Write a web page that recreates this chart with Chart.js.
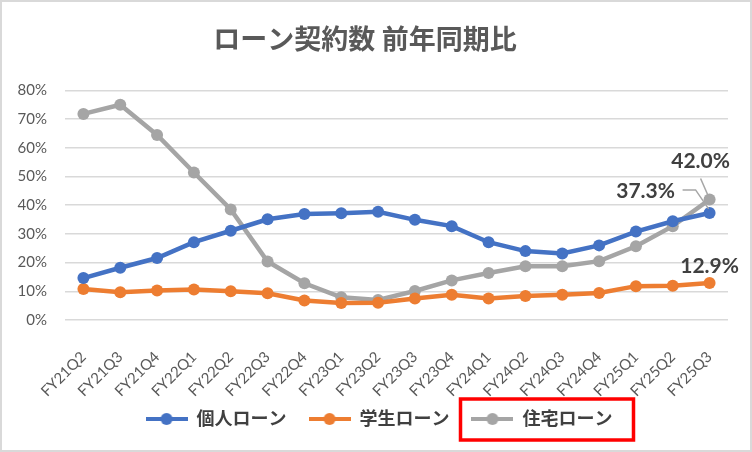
<!DOCTYPE html>
<html>
<head>
<meta charset="utf-8">
<script src="https://cdn.jsdelivr.net/npm/chart.js@4.4.1/dist/chart.umd.min.js"></script>
<style>
  html, body { margin: 0; padding: 0; background: #fff; }
  #wrap { width: 752px; height: 452px; box-sizing: border-box; border: 2px solid #d9d9d9; }
  canvas { display: block; }
</style>
</head>
<body>
<div id="wrap"><canvas id="loan-chart" width="748" height="448"></canvas></div>
<script>
const quarters = ['FY21Q2', 'FY21Q3', 'FY21Q4', 'FY22Q1', 'FY22Q2', 'FY22Q3', 'FY22Q4', 'FY23Q1', 'FY23Q2',
    'FY23Q3', 'FY23Q4', 'FY24Q1', 'FY24Q2', 'FY24Q3', 'FY24Q4', 'FY25Q1', 'FY25Q2', 'FY25Q3'];
const personalLoan = [14.6, 18.2, 21.6, 27.1, 31.1, 35.1, 36.9, 37.2, 37.7, 34.9, 32.7, 27.1, 24.0, 23.2, 26.0, 30.8, 34.4, 37.3];
const studentLoan = [10.8, 9.7, 10.3, 10.6, 10.0, 9.3, 6.8, 5.9, 6.0, 7.5, 8.8, 7.5, 8.4, 8.8, 9.4, 11.8, 11.9, 12.9];
const housingLoan = [71.8, 75.0, 64.5, 51.4, 38.5, 20.4, 12.8, 7.9, 7.0, 10.1, 13.8, 16.4, 18.7, 18.7, 20.5, 25.7, 32.7, 42.0];
const yTicks = [0, 10, 20, 30, 40, 50, 60, 70, 80];

const FONT = "Lato, 'Noto Sans CJK JP', sans-serif";

// legend marker: line with a dot in the middle
function legendMarker(color) {
    const c = document.createElement('canvas');
    c.width = 42;
    c.height = 14;
    const g = c.getContext('2d');
    g.strokeStyle = color;
    g.lineWidth = 4;
    g.beginPath();
    g.moveTo(0, 7);
    g.lineTo(42, 7);
    g.stroke();
    g.fillStyle = color;
    g.beginPath();
    g.arc(21, 7, 6, 0, Math.PI * 2);
    g.fill();
    return c;
}

// labels on the last point of each series
const endLabels = {
    id: 'endLabels',
    afterLayout(chart) {
        // legend sits a bit right of the plot centre in the original
        chart.legend.left += 14;
        chart.legend.right += 14;
        // let the rotated x labels run a little past the axis box
        chart.scales.x.bottom += 16;
    },
    afterDatasetsDraw(chart) {
        const ctx = chart.ctx;
        const last = quarters.length - 1;
        const pBlue = chart.getDatasetMeta(0).data[last];
        const pOrange = chart.getDatasetMeta(1).data[last];
        const pGray = chart.getDatasetMeta(2).data[last];
        ctx.save();
        // leader lines
        ctx.strokeStyle = '#a6a6a6';
        ctx.lineWidth = 1.5;
        ctx.beginPath();
        ctx.moveTo(pBlue.x - 27, pBlue.y - 23);
        ctx.lineTo(pBlue.x - 14, pBlue.y - 23);
        ctx.lineTo(pBlue.x - 1, pBlue.y - 4);
        ctx.stroke();
        ctx.beginPath();
        ctx.moveTo(pGray.x - 9, pGray.y - 21);
        ctx.lineTo(pGray.x - 2, pGray.y - 5);
        ctx.stroke();

        ctx.font = 'bold 21px ' + FONT;
        ctx.fillStyle = '#404040';
        ctx.textAlign = 'center';
        ctx.textBaseline = 'middle';
        ctx.fillText(housingLoan[last].toFixed(1) + '%', pGray.x - 9, pGray.y - 38);
        ctx.fillText(personalLoan[last].toFixed(1) + '%', pBlue.x - 64, pBlue.y - 22);
        ctx.fillText(studentLoan[last].toFixed(1) + '%', pOrange.x, pOrange.y - 17);
        ctx.restore();
    },
    afterDraw(chart) {
        // red highlight around the housing loan legend item
        const box = chart.legend.legendHitBoxes[2];
        if (!box) return;
        const ctx = chart.ctx;
        const cy = box.top + box.height / 2;
        ctx.save();
        ctx.strokeStyle = '#ff0000';
        ctx.lineWidth = 3.5;
        ctx.strokeRect(box.left - 11, cy - 20, box.width + 32, 41);
        ctx.restore();
    }
};

const markers = ['#4472c4', '#ed7d31', '#a5a5a5'].map(legendMarker);

const ctx = document.getElementById('loan-chart').getContext('2d');
const loanChart = new Chart(ctx, {
    type: 'line',
    data: {
        labels: quarters,
        datasets: [
            { label: '個人ローン', data: personalLoan, borderColor: '#4472c4', backgroundColor: '#4472c4' },
            { label: '学生ローン', data: studentLoan, borderColor: '#ed7d31', backgroundColor: '#ed7d31' },
            { label: '住宅ローン', data: housingLoan, borderColor: '#a5a5a5', backgroundColor: '#a5a5a5' }
        ]
    },
    options: {
        responsive: false,
        animation: false,
        elements: {
            line: { borderWidth: 4.5, tension: 0 },
            point: { pointStyle: 'circle', radius: 6, hoverRadius: 6, borderWidth: 0 }
        },
        layout: { padding: { left: 0, right: 22, top: 0, bottom: 12 } },
        scales: {
            x: {
                offset: true,
                grid: { display: false },
                border: { display: false },
                afterFit: axis => { axis.height = 68; },
                ticks: {
                    maxRotation: 45,
                    minRotation: 45,
                    autoSkip: false,
                    padding: 20,
                    color: '#595959',
                    font: { family: FONT, size: 15 }
                }
            },
            y: {
                min: 0,
                max: 80,
                afterBuildTicks: axis => { axis.ticks = yTicks.map(v => ({ value: v })); },
                afterFit: axis => { axis.width = 63; },
                grid: { color: '#d9d9d9', lineWidth: 1.5, drawTicks: false },
                border: { display: false },
                ticks: {
                    padding: 18,
                    color: '#595959',
                    font: { family: FONT, size: 15 },
                    callback: v => v + '%'
                }
            }
        },
        plugins: {
            title: {
                display: true,
                text: 'ローン契約数 前年同期比',
                color: '#595959',
                font: { family: FONT, size: 27, weight: 'bold' },
                padding: { top: 22, bottom: 34 }
            },
            legend: {
                position: 'bottom',
                labels: {
                    usePointStyle: true,
                    pointStyleWidth: 42,
                    color: '#404040',
                    padding: 22,
                    font: { family: FONT, size: 18, weight: 'bold' },
                    generateLabels: chart => chart.data.datasets.map((ds, i) => ({
                        text: ds.label,
                        pointStyle: markers[i],
                        fillStyle: ds.borderColor,
                        strokeStyle: ds.borderColor,
                        lineWidth: 0,
                        fontColor: '#404040',
                        datasetIndex: i
                    }))
                }
            },
            tooltip: { enabled: false }
        }
    },
    plugins: [endLabels]
});
</script>
</body>
</html>
